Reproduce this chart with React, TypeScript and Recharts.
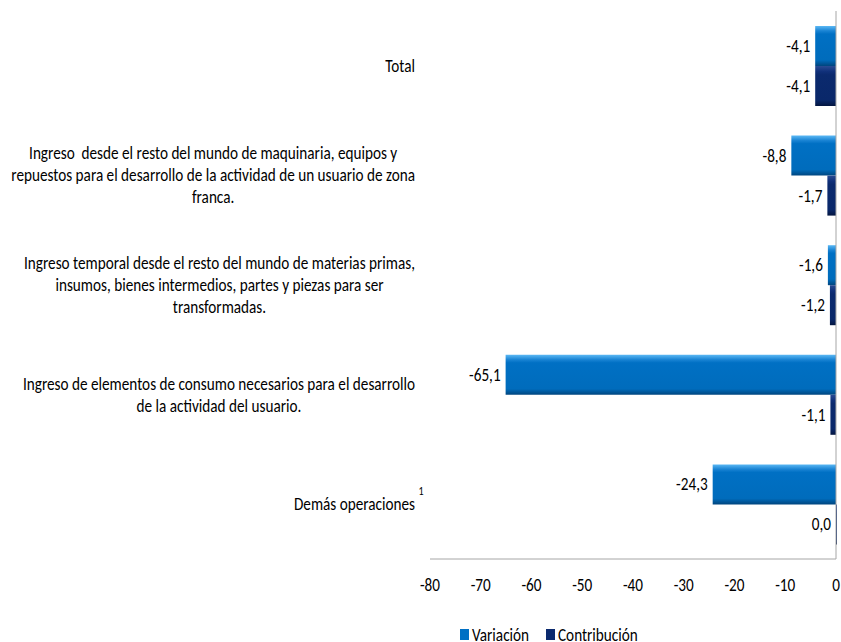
import { BarChart, Bar, XAxis, YAxis, ReferenceLine, LabelList, Legend } from 'recharts';

const FONT = "Carlito, Lato, 'Open Sans', sans-serif";

const categories = [
    'Total',
    'Ingreso  desde el resto del mundo de maquinaria, equipos y\nrepuestos para el desarrollo de la actividad de un usuario de zona\nfranca.',
    'Ingreso temporal desde el resto del mundo de materias primas,\ninsumos, bienes intermedios, partes y piezas para ser\ntransformadas.',
    'Ingreso de elementos de consumo necesarios para el desarrollo\nde la actividad del usuario.',
    'Demás operaciones',
];
const footnotes = ['', '', '', '', '1'];
const variacion = [-4.1, -8.8, -1.6, -65.1, -24.3];
const contribucion = [-4.1, -1.7, -1.2, -1.1, 0.0];
const xTicks = [-80, -70, -60, -50, -40, -30, -20, -10, 0];

const data = categories.map((name, i) => ({
    name,
    variacion: variacion[i],
    contribucion: contribucion[i],
}));

const colors = {
    variacion: '#0070C4',
    contribucion: '#0B2A6E',
    axis: '#A6A6A6',
};

const SIZE = 18;

let ctx: CanvasRenderingContext2D | null = null;
const measure = (text: string, size: number) => {
    if (!ctx) ctx = document.createElement('canvas').getContext('2d');
    if (!ctx) return text.length * size * 0.45;
    ctx.font = `${size}px ${FONT}`;
    return ctx.measureText(text).width;
};

// the source text is tall and narrow, squeeze the glyphs to the same width
let squeeze = 0;
const K = () => {
    if (!squeeze) squeeze = 391 / measure('Ingreso temporal desde el resto del mundo de materias primas,', SIZE);
    return squeeze;
};

const NText = ({ children, size = SIZE, ...rest }: any) => {
    const s = String(children);
    return (
        <text {...rest} fontFamily={FONT} fontSize={size} fill="#000" dominantBaseline="central"
            style={{ whiteSpace: 'pre' }}
            textLength={measure(s, size) * K()} lengthAdjust="spacingAndGlyphs">{s}</text>
    );
};

const fmt = (v: number) => v.toFixed(1).replace('.', ',');

const CategoryTick = ({ y, payload, index }: any) => {
    const lines = String(payload.value).split('\n');
    const lineH = 22;
    const blockW = Math.max(...lines.map((l) => measure(l, SIZE) * K()));
    const right = 415;
    const cx = right - blockW / 2;
    const top = y - ((lines.length - 1) * lineH) / 2;
    const note = footnotes[index];
    return (
        <g>
            {lines.map((l, i) => (
                <NText key={i} x={cx} y={top + i * lineH} textAnchor="middle">{l}</NText>
            ))}
            {note ? <NText x={right + 6} y={top - 13} textAnchor="middle" size={12}>{note}</NText> : null}
        </g>
    );
};

const ValueTick = ({ x, y, payload }: any) => (
    <NText x={x} y={y + 18} textAnchor="middle">{payload.value}</NText>
);

const BarValue = ({ x, y, width, height, value }: any) => {
    const left = Math.min(x, x + width);
    return <NText x={left - 5} y={y + height / 2} textAnchor="end">{fmt(Number(value))}</NText>;
};

const LegendBox = () => {
    const items = [
        { label: 'Variación', color: colors.variacion, x: 460, gap: 12 },
        { label: 'Contribución', color: colors.contribucion, x: 546, gap: 12 },
    ];
    return (
        <svg width={841} height={22} style={{ display: 'block' }}>
            {items.map((it) => (
                <g key={it.label}>
                    <rect x={it.x} y={9} width={9} height={11} fill={it.color} />
                    <NText x={it.x + it.gap} y={15} textAnchor="start">{it.label}</NText>
                </g>
            ))}
        </svg>
    );
};

const App = () => {
    return (
        <div style={{ position: 'absolute', left: 0, top: 0 }}>
            <BarChart width={841} height={642} data={data} layout="vertical"
                margin={{ top: 11, right: 5, bottom: 0, left: 0 }} barGap={0}>
                <defs>
                    <linearGradient id="gVar" x1="0" y1="0" x2="0" y2="1">
                        <stop offset="0%" stopColor="#5BB8F4" />
                        <stop offset="12%" stopColor="#1A84D4" />
                        <stop offset="20%" stopColor="#0070C4" />
                        <stop offset="85%" stopColor="#006CBC" />
                        <stop offset="100%" stopColor="#00457E" />
                    </linearGradient>
                    <linearGradient id="gCon" x1="0" y1="0" x2="0" y2="1">
                        <stop offset="0%" stopColor="#2A4C94" />
                        <stop offset="14%" stopColor="#10307A" />
                        <stop offset="22%" stopColor="#0B2A6E" />
                        <stop offset="85%" stopColor="#0A286A" />
                        <stop offset="100%" stopColor="#031540" />
                    </linearGradient>
                </defs>
                <XAxis type="number" domain={[-80, 0]} ticks={xTicks} height={83} tickLine={false}
                    axisLine={{ stroke: colors.axis }} tick={<ValueTick />} interval={0} />
                <YAxis type="category" dataKey="name" width={430} axisLine={false} tickLine={false}
                    tick={<CategoryTick />} interval={0} />
                <ReferenceLine x={0} stroke={colors.axis} />
                <Bar dataKey="variacion" name="Variación" fill="url(#gVar)" barSize={40} isAnimationActive={false}>
                    <LabelList dataKey="variacion" content={<BarValue />} />
                </Bar>
                <Bar dataKey="contribucion" name="Contribución" fill="url(#gCon)" barSize={40} minPointSize={1}
                    isAnimationActive={false}>
                    <LabelList dataKey="contribucion" content={<BarValue />} />
                </Bar>
                <Legend verticalAlign="middle" content={<LegendBox />}
                    wrapperStyle={{ top: 620, left: 0, width: 841, height: 22 }} />
            </BarChart>
        </div>
    );
};

export default App;
